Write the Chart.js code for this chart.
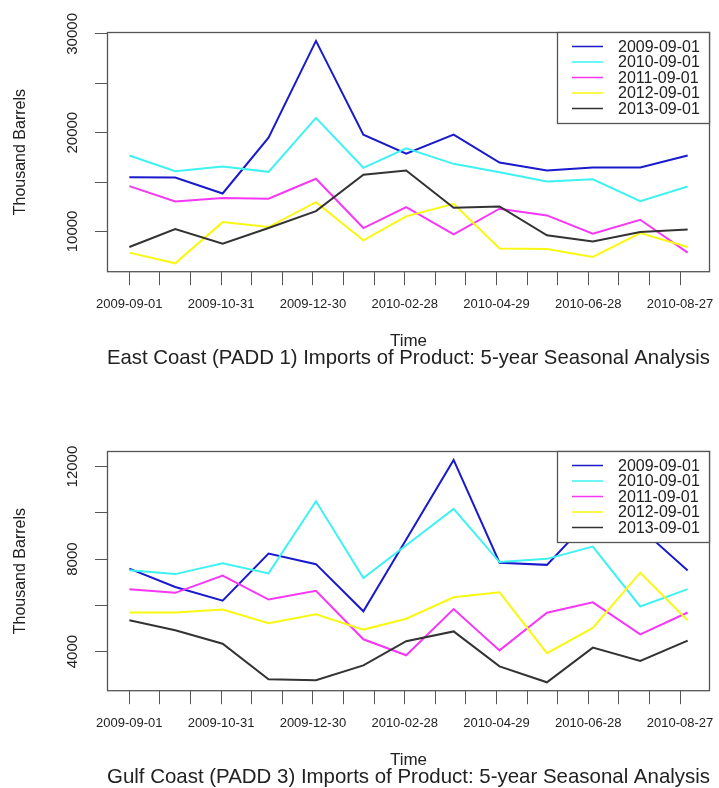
<!DOCTYPE html>
<html>
<head>
<meta charset="utf-8">
<script src="https://cdn.jsdelivr.net/npm/chart.js@4"></script>
<style>
  html, body { margin: 0; padding: 0; background: #ffffff; }
  body { width: 719px; height: 788px; position: relative; overflow: hidden; }
  .panel { position: absolute; left: 0; width: 719px; height: 369px; }
  #p1 { top: 0px; }
  #p2 { top: 419px; }
</style>
</head>
<body>
<div class="panel" id="p1"><canvas id="c1" width="719" height="369"></canvas></div>
<div class="panel" id="p2"><canvas id="c2" width="719" height="369"></canvas></div>
<script>
// ---------- data ----------
const dates = ['2009-09-01','2009-10-01','2009-11-01','2009-12-01','2010-01-01','2010-02-01',
               '2010-03-01','2010-04-01','2010-05-01','2010-06-01','2010-07-01','2010-08-01','2010-09-01'];
const seriesLabels = ['2009-09-01','2010-09-01','2011-09-01','2012-09-01','2013-09-01'];
const seriesColors = ['#1a1acd','#3ef2f2','#f637f6','#f8f812','#333333'];

// East Coast (PADD 1)
const east2009 = [15490, 15460, 13840, 19500, 29290, 19800, 17880, 19800, 16970, 16160, 16470, 16470, 17680];
const east2010 = [17680, 16090, 16570, 16030, 21490, 16440, 18420, 16840, 15990, 15050, 15280, 13060, 14550];
const east2011 = [14580, 13030, 13370, 13310, 15330, 10340, 12460,  9700, 12300, 11620,  9770, 11180,  7850];
const east2012 = [ 7850,  6770, 10940, 10440, 12960,  9090, 11520, 12800,  8260,  8210,  7410,  9830,  8420];
const east2013 = [ 8420, 10240,  8760, 10340, 12050, 15730, 16160, 12400, 12530,  9600,  8990,  9930, 10200];

// Gulf Coast (PADD 3)
const gulf2009 = [7590, 6790, 6200, 8240, 7780, 5740, 8850, 12290, 7840, 7750, 9850, 9340, 7510];
const gulf2010 = [7520, 7350, 7820, 7380, 10500, 7180, 8600, 10170, 7870, 8010, 8540, 5950, 6700];
const gulf2011 = [6690, 6540, 7290, 6250, 6630, 4530, 3840, 5840, 4050, 5680, 6130, 4740, 5690];
const gulf2012 = [5690, 5690, 5820, 5230, 5610, 4950, 5420, 6350, 6560, 3930, 5020, 7410, 5350];
const gulf2013 = [5350, 4920, 4340, 2800, 2760, 3400, 4450, 4870, 3360, 2670, 4170, 3590, 4470];

const xTickLabels = ['2009-09-01','2009-10-31','2009-12-30','2010-02-28','2010-04-29','2010-06-28','2010-08-27'];
const xTickStepDays = 20;      // minor tick spacing
const xLabelStepDays = 60;     // labelled tick spacing

const eastYTicks  = [10000, 15000, 20000, 25000, 30000];
const eastYLabels = [10000, 20000, 30000];
const gulfYTicks  = [4000, 6000, 8000, 10000, 12000];
const gulfYLabels = [4000, 8000, 12000];

const eastTitle = 'East Coast (PADD 1) Imports of Product: 5-year Seasonal Analysis';
const gulfTitle = 'Gulf Coast (PADD 3) Imports of Product: 5-year Seasonal Analysis';
const yTitle = 'Thousand Barrels';
const xTitle = 'Time';

// ---------- helpers ----------
const FONT = "'Liberation Sans', Arial, Helvetica, sans-serif";
const TEXT = '#222222';
const AXIS = '#555555';
const DAY = 86400000;
const t0 = Date.parse(dates[0] + 'T00:00:00Z');
const dayOf = d => Math.round((Date.parse(d + 'T00:00:00Z') - t0) / DAY);
const xDays = dates.map(dayOf);
const lastLabelDay = (xTickLabels.length - 1) * xLabelStepDays;
const xTickVals = [];
for (let d = 0; d <= lastLabelDay; d += xTickStepDays) xTickVals.push(d);

function rRange(vals) {
  const lo = Math.min(...vals), hi = Math.max(...vals);
  const pad = (hi - lo) * 0.04;
  return [lo - pad, hi + pad];
}
const [xMin, xMax] = rRange(xDays);

const framePlugin = {
  id: 'frame',
  afterDraw(chart, args, opts) {
    const ctx = chart.ctx;
    const a = chart.chartArea;
    ctx.save();
    // box
    ctx.strokeStyle = AXIS;
    ctx.lineWidth = 1.3;
    ctx.strokeRect(a.left + 0.5, a.top + 0.5, a.right - a.left - 1, a.bottom - a.top - 1);
    // vertical y tick labels
    const ys = chart.scales.y;
    ctx.fillStyle = TEXT;
    ctx.font = '15px ' + FONT;
    ctx.textAlign = 'center';
    ctx.textBaseline = 'alphabetic';
    opts.yLabels.forEach(v => {
      const py = ys.getPixelForValue(v);
      ctx.save();
      ctx.translate(77, py);
      ctx.rotate(-Math.PI / 2);
      ctx.fillText(String(v), 0, 0);
      ctx.restore();
    });
    // legend
    const lw = 153, lh = 91;
    const lx = a.right - lw, ly = a.top;
    ctx.fillStyle = '#ffffff';
    ctx.fillRect(lx, ly, lw, lh);
    ctx.strokeStyle = AXIS;
    ctx.lineWidth = 1.3;
    ctx.strokeRect(lx + 0.5, ly + 0.5, lw - 1, lh);
    ctx.font = '16px ' + FONT;
    ctx.textAlign = 'left';
    ctx.textBaseline = 'middle';
    chart.data.datasets.forEach((ds, i) => {
      const ry = ly + 14.5 + i * 15.5;
      ctx.strokeStyle = ds.borderColor;
      ctx.lineWidth = 1.5;
      ctx.beginPath();
      ctx.moveTo(lx + 15, ry);
      ctx.lineTo(lx + 46, ry);
      ctx.stroke();
      ctx.fillStyle = TEXT;
      ctx.fillText(ds.label, lx + 61, ry + 1);
    });
    ctx.restore();
  }
};

function makeChart(id, series, yTicks, yLabels, title) {
  const [yMin, yMax] = rRange(series.flat());
  const datasets = series.map((vals, i) => ({
    label: seriesLabels[i],
    data: vals.map((v, k) => ({ x: xDays[k], y: v })),
    borderColor: seriesColors[i],
    backgroundColor: seriesColors[i],
    borderWidth: 2,
    pointRadius: 0,
    tension: 0,
    fill: false,
    order: series.length - i
  }));
  return new Chart(document.getElementById(id), {
    type: 'line',
    data: { datasets },
    plugins: [framePlugin],
    options: {
      responsive: false,
      animation: false,
      devicePixelRatio: 1,
      layout: { padding: { top: 32, right: 9, bottom: 0, left: 0 } },
      plugins: {
        legend: { display: false },
        tooltip: { enabled: false },
        frame: { yLabels },
        title: {
          display: true, text: title, position: 'bottom', fullSize: false,
          color: TEXT, padding: 0,
          font: { family: FONT, size: 20.8, weight: 'normal', lineHeight: 1 }
        }
      },
      scales: {
        x: {
          type: 'linear', min: xMin, max: xMax,
          afterBuildTicks: s => { s.ticks = xTickVals.map(v => ({ value: v })); },
          afterFit: s => { s.height = 76; s.paddingLeft = 0; s.paddingRight = 0; },
          grid: { drawOnChartArea: false, drawTicks: true, tickLength: 13, color: AXIS, lineWidth: 1 },
          border: { display: false },
          ticks: {
            autoSkip: false, maxRotation: 0, minRotation: 0, padding: 11,
            color: TEXT, font: { family: FONT, size: 13 },
            callback: v => (v % xLabelStepDays === 0 ? xTickLabels[v / xLabelStepDays] : '')
          },
          title: {
            display: true, text: xTitle, color: TEXT,
            font: { family: FONT, size: 17, lineHeight: 0.85 },
            padding: { top: 0, bottom: 0 }
          }
        },
        y: {
          type: 'linear', min: yMin, max: yMax,
          afterBuildTicks: s => { s.ticks = yTicks.map(v => ({ value: v })); },
          afterFit: s => { s.width = 107; s.paddingTop = 0; s.paddingBottom = 0; },
          grid: { drawOnChartArea: false, drawTicks: true, tickLength: 12, color: AXIS, lineWidth: 1 },
          border: { display: false },
          ticks: { display: false },
          title: {
            display: true, text: yTitle, color: TEXT,
            font: { family: FONT, size: 16, lineHeight: 1 },
            padding: { top: 13, bottom: 0 }
          }
        }
      }
    }
  });
}

makeChart('c1', [east2009, east2010, east2011, east2012, east2013], eastYTicks, eastYLabels, eastTitle);
makeChart('c2', [gulf2009, gulf2010, gulf2011, gulf2012, gulf2013], gulfYTicks, gulfYLabels, gulfTitle);
</script>
</body>
</html>
